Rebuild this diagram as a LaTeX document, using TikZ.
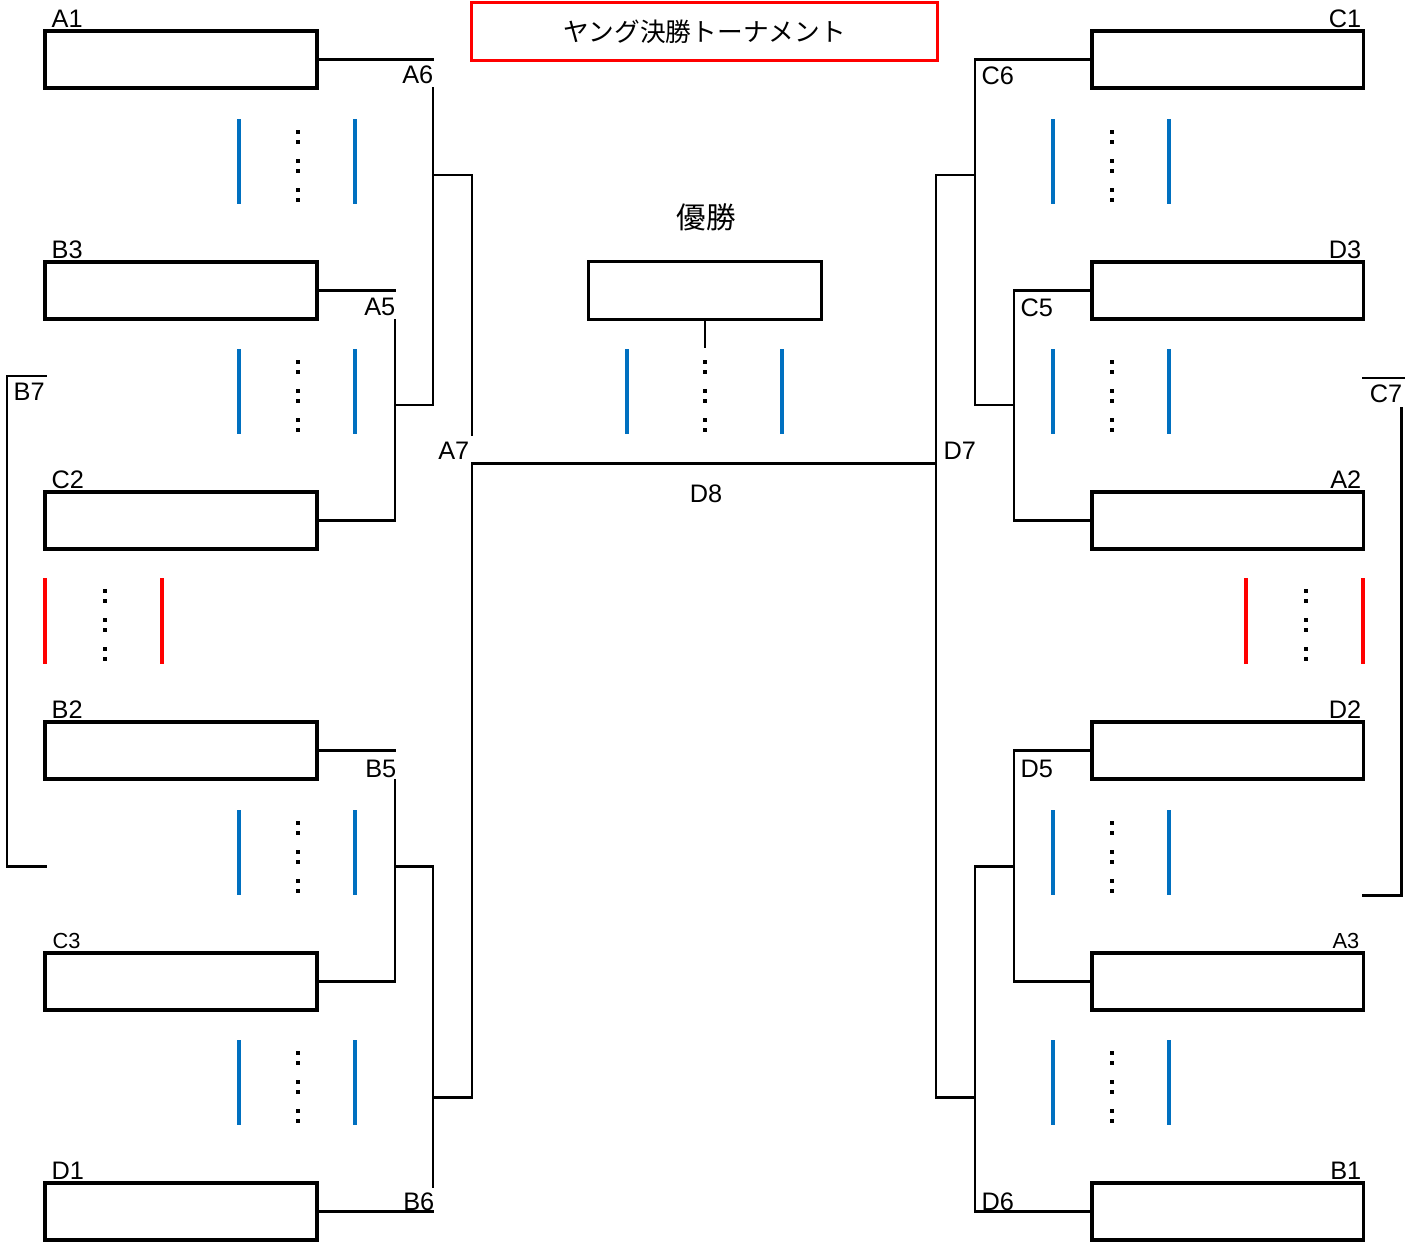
\documentclass[tikz,border=0pt]{standalone}
\usepackage{fontspec}
\setmainfont{Liberation Sans}
\newfontfamily\jpfont{Noto Sans CJK JP}
\definecolor{xblue}{RGB}{0,112,192}
\definecolor{xred}{RGB}{255,0,0}
\newcommand\dotcolumn[2]{%
  \foreach \dy in {13,23,42,52,71,81}{\fill (#1-1.6,#2+\dy-1.6) rectangle (#1+1.6,#2+\dy+1.6);}}
\begin{document}
\begin{tikzpicture}[x=0.01cm,y=-0.01cm,
  box/.style={draw,line width=0.9pt,minimum width=2.72cm,minimum height=0.57cm,inner sep=0pt,outer sep=0pt},
  rbox/.style={box,minimum width=2.71cm},
  conn/.style={line width=0.85pt,line cap=rect},
  lab/.style={inner sep=0pt,font=\fontsize{7.2}{8}\selectfont},
  slab/.style={inner sep=0pt,font=\fontsize{6.2}{7}\selectfont},
  bl/.style={draw=xblue,line width=0.9pt},
  rl/.style={draw=xred,line width=0.9pt}]
\useasboundingbox (0,0) rectangle (1420,1245);

% title
\node[draw=xred,line width=0.85pt,minimum width=4.65cm,minimum height=0.57cm,inner sep=0pt,
      font=\jpfont\fontsize{7.3}{8}\selectfont] (title) at (704.5,31.5) {ヤング決勝トーナメント};

% left boxes
\node[box] (bA1) at (181,59.5) {};
\node[box] (bB3) at (181,290.5) {};
\node[box] (bC2) at (181,520.5) {};
\node[box] (bB2) at (181,750.5) {};
\node[box] (bC3) at (181,981.5) {};
\node[box] (bD1) at (181,1211.5) {};
% right boxes
\node[rbox] (bC1) at (1227.5,59.5) {};
\node[rbox] (bD3) at (1227.5,290.5) {};
\node[rbox] (bA2) at (1227.5,520.5) {};
\node[rbox] (bD2) at (1227.5,750.5) {};
\node[rbox] (bA3) at (1227.5,981.5) {};
\node[rbox] (bB1) at (1227.5,1211.5) {};
% winner
\node[inner sep=0pt,font=\jpfont\fontsize{8.4}{9}\selectfont] (lwin) at (706,217) {優勝};
\node[box,minimum width=2.33cm,minimum height=0.58cm] (bWin) at (705,290.5) {};

% box labels
\node[lab,anchor=base west] (lA1) at (51,27) {A1};
\node[lab,anchor=base west] (lB3) at (51,258) {B3};
\node[lab,anchor=base west] (lC2) at (51,488) {C2};
\node[lab,anchor=base west] (lB2) at (51,718) {B2};
\node[slab,anchor=base west] (lC3) at (52,948) {C3};
\node[lab,anchor=base west] (lD1) at (51,1179) {D1};
\node[lab,anchor=base east] (lC1) at (1362,27) {C1};
\node[lab,anchor=base east] (lD3) at (1362,258) {D3};
\node[lab,anchor=base east] (lA2) at (1362,488) {A2};
\node[lab,anchor=base east] (lD2) at (1362,718) {D2};
\node[slab,anchor=base east] (lA3) at (1360,948) {A3};
\node[lab,anchor=base east] (lB1) at (1362,1179) {B1};

% junction labels
\node[lab,anchor=base east] (lA6) at (434,83) {A6};
\node[lab,anchor=base east] (lA5) at (396,315) {A5};
\node[lab,anchor=base east] (lB5) at (397,777) {B5};
\node[lab,anchor=base east] (lB6) at (435,1210) {B6};
\node[lab,anchor=base east] (lA7) at (470,459) {A7};
\node[lab,anchor=base west] (lD7) at (943,459) {D7};
\node[lab,anchor=base] (lD8) at (706,502) {D8};
\node[lab,anchor=base west] (lC6) at (981,84) {C6};
\node[lab,anchor=base west] (lC5) at (1020,316) {C5};
\node[lab,anchor=base west] (lD5) at (1020,777) {D5};
\node[lab,anchor=base west] (lD6) at (981,1210) {D6};
\node[lab,anchor=base west] (lB7) at (13,400) {B7};
\node[lab,anchor=base east] (lC7) at (1403,402) {C7};

% coordinates
\coordinate (a6t) at (433,88);
\coordinate (a6m) at (433,175);
\coordinate (a6b) at (433,405);
\coordinate (a5t) at (395,320);
\coordinate (a7g) at (472,435);
\coordinate (a7j) at (472,463);
\coordinate (a7b) at (472,1097);
\coordinate (b5t) at (395,780);
\coordinate (b6t) at (433,866);
\coordinate (b6m) at (433,1097);
\coordinate (b6b) at (433,1186);
\coordinate (c6b) at (975,405);
\coordinate (c6m) at (975,175);
\coordinate (c5m) at (1014,405);
\coordinate (d5m) at (1014,866);
\coordinate (d6m) at (975,866);
\coordinate (d6j) at (975,1097);
\coordinate (d7t) at (936,175);
\coordinate (d7j) at (936,463);
\coordinate (d7b) at (936,1097);
\coordinate (wEnd) at (705,347);
\coordinate (b7t) at (46,376);
\coordinate (b7c) at (7,376);
\coordinate (b7d) at (7,866);
\coordinate (b7e) at (46,866);
\coordinate (c7a) at (1363,378);
\coordinate (c7b) at (1403,378);
\coordinate (c7v) at (1401,408);
\coordinate (c7d) at (1401,895);
\coordinate (c7e) at (1363,895);

% left connectors
\draw[conn] (bA1.east) -- (bA1.east -| a6t);
\draw[conn] (a6t) -- (a6b) -- (a6b -| a5t);
\draw[conn] (a6m) -- (a6m -| a7g) -- (a7g);
\draw[conn] (bB3.east) -- (bB3.east -| a5t);
\draw[conn] (a5t) -- (a5t |- bC2.east) -- (bC2.east);
\draw[conn] (bB2.east) -- (bB2.east -| b5t);
\draw[conn] (b5t) -- (b5t |- bC3.east) -- (bC3.east);
\draw[conn] (b6t -| b5t) -- (b6t) -- (b6b);
\draw[conn] (bD1.east) -- (bD1.east -| b6b);
\draw[conn] (b6m) -- (a7b) -- (a7j) -- (d7j);
% right connectors
\draw[conn] (bC1.west) -- (bC1.west -| c6b) -- (c6b) -- (c5m);
\draw[conn] (bD3.west) -- (bD3.west -| c5m) -- (c5m |- bA2.west) -- (bA2.west);
\draw[conn] (bD2.west) -- (bD2.west -| d5m) -- (d5m |- bA3.west) -- (bA3.west);
\draw[conn] (d5m) -- (d6m) -- (d6m |- bB1.west) -- (bB1.west);
\draw[conn] (c6m) -- (d7t) -- (d7b) -- (d6j);
% winner stem
\draw[conn] (bWin.south) -- (wEnd);
% brackets
\draw[conn] (b7t) -- (b7c) -- (b7d) -- (b7e);
\draw[conn] (c7a) -- (c7b);
\draw[conn] (c7v) -- (c7d) -- (c7e);

% blue markers and dots
\foreach \t in {119,349,810,1040}{
  \draw[bl] (239,\t) -- (239,\t+85);
  \draw[bl] (355,\t) -- (355,\t+85);
  \dotcolumn{298}{\t}
  \draw[bl] (1053,\t) -- (1053,\t+85);
  \draw[bl] (1169,\t) -- (1169,\t+85);
  \dotcolumn{1112}{\t}
}
\draw[bl] (627,349) -- (627,434);
\draw[bl] (782,349) -- (782,434);
\dotcolumn{705}{349}
% red markers
\draw[rl] (45,578) -- (45,664);
\draw[rl] (162,578) -- (162,664);
\dotcolumn{105}{578}
\draw[rl] (1246,578) -- (1246,664);
\draw[rl] (1363,578) -- (1363,664);
\dotcolumn{1306}{578}
\end{tikzpicture}
\end{document}
